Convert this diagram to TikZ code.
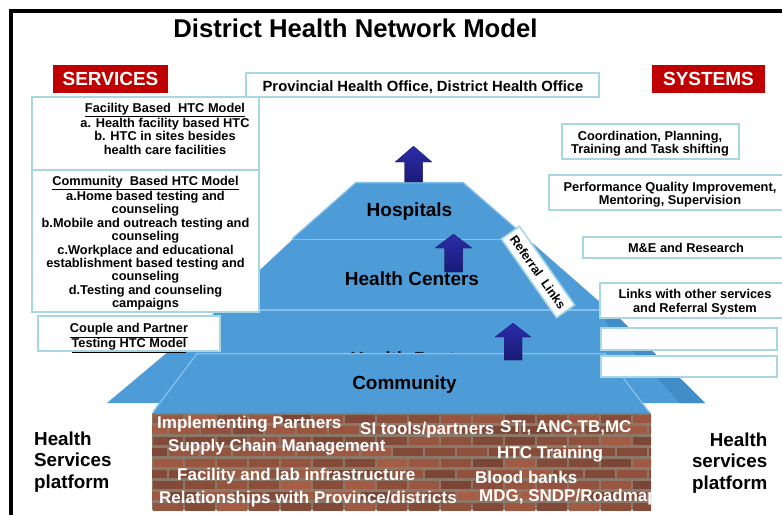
\documentclass[tikz,border=0pt]{standalone}
\usepackage{fontspec}
\setmainfont{Liberation Sans}
\newcommand{\setfs}[2]{\fontsize{#1}{#2}\selectfont\bfseries}
\definecolor{boxline}{RGB}{168,215,226}
\definecolor{tagred}{RGB}{192,0,0}
\definecolor{pyrblue}{RGB}{77,155,215}
\definecolor{pyrlight}{RGB}{132,192,236}
\definecolor{pyrside}{RGB}{66,140,200}
\definecolor{navytop}{RGB}{44,44,170}
\definecolor{navybot}{RGB}{26,26,120}
\definecolor{brickA}{RGB}{176,98,72}
\definecolor{brickB}{RGB}{112,64,50}
\definecolor{mortar}{RGB}{140,120,104}
\begin{document}
\begin{tikzpicture}[x=1pt,y=-1pt,
  every node/.style={inner sep=0pt},
  box/.style={draw=boxline, line width=1.6pt, fill=white},
  boxtext/.style={font=\setfs{12.8}{13.6}, align=center, anchor=north},
  redtag/.style={fill=tagred, text=white, font=\setfs{19}{19}, minimum height=28pt},
  layer/.style={fill=pyrblue},
  rim/.style={draw=pyrlight, line width=1.3pt},
  layerlabel/.style={font=\setfs{19}{19}, anchor=base},
  uparrow/.style={top color=navytop, bottom color=navybot},
  bricktext/.style={text=white, font=\setfs{17}{17}, anchor=base west},
  sidelabel/.style={font=\setfs{18.8}{21.5}},
]
\path[use as bounding box, fill=white] (0,0) rectangle (782,515);

% frame
\draw[line width=3.4pt] (11,515) -- (11,11) -- (782,11);

% title
\node[font=\setfs{25.7}{25.7}, anchor=base] (title) at (355.5,37) {District Health Network Model};

% red headings
\node[redtag, minimum width=115pt] (services) at (110.5,79) {SERVICES};
\node[redtag, minimum width=113pt] (systems) at (708.5,79) {SYSTEMS};

% brick platform
\begin{scope}
  \clip (152,413) rectangle (651,510);
  \fill[mortar] (152,413) rectangle (651,510);
  \pgfmathsetseed{11}
  \foreach \r in {0,...,8} {
    \foreach \c in {0,...,16} {
      \pgfmathsetmacro{\m}{int(15+75*rnd)}
      \pgfmathsetmacro{\xo}{152+\c*32-mod(\r,2)*16}
      \pgfmathsetmacro{\yo}{413+\r*11}
      \fill[brickA!\m!brickB] (\xo+1,\yo+1.5) rectangle (\xo+31,\yo+10);
    }
  }
  \node[bricktext] (ip) at (157,428) {Implementing Partners};
  \node[bricktext] (si) at (360,434) {SI tools/partners};
  \node[bricktext] (sti) at (500,432) {STI, ANC,TB,MC};
  \node[bricktext] (scm) at (168,451) {Supply Chain Management};
  \node[bricktext] (htct) at (497,458) {HTC Training};
  \node[bricktext] (fli) at (177,480) {Facility and lab infrastructure};
  \node[bricktext] (bb) at (475,483) {Blood banks};
  \node[bricktext] (rel) at (159,503) {Relationships with Province/districts};
  \node[bricktext] (mdg) at (479,501) {MDG, SNDP/Roadmap};
\end{scope}

% pyramid layers, back to front
\fill[layer] (218,310) -- (611,310) -- (705,403) -- (107,403) -- cycle;
\fill[pyrside] (611,310) -- (705,403) -- (680,403) -- (606,322) -- cycle;
\node[layerlabel] (posts) at (408,365) {Health Posts};
\fill[layer] (292,240) -- (529,240) -- (609,310) -- (217,310) -- cycle;
\draw[rim] (217,310) -- (611,310);
\fill[layer] (356,182) -- (463,182) -- (528,239) -- (292,239) -- cycle;
\draw[rim] (292,239.5) -- (529,239.5);
\draw[rim] (293,238) -- (356,182.6) -- (463,182.6) -- (527,238);
\fill[layer] (197,353) -- (605,353) -- (650,413) -- (153,413) -- cycle;
\draw[rim] (153,412) -- (197,353.6) -- (605,353.6) -- (649,412);

\node[layerlabel] (hosp) at (409.5,216) {Hospitals};
\node[layerlabel] (hc) at (412,285) {Health Centers};
\node[layerlabel] (comm) at (404.5,389) {Community};

% upward arrows
\fill[uparrow] (404.5,182) -- (404.5,162) -- (395,162) -- (413.5,146) -- (432,162) -- (422.5,162) -- (422.5,182) -- cycle;
\fill[uparrow] (444.5,272) -- (444.5,248) -- (435,248) -- (453.5,234) -- (472,248) -- (462.5,248) -- (462.5,272) -- cycle;
\fill[uparrow] (504,360) -- (504,337) -- (495,337) -- (513,323) -- (531,337) -- (522,337) -- (522,360) -- cycle;

% referral strip along the right slope
\node[box, rotate=-55, minimum width=96pt, minimum height=22pt, font=\setfs{12.5}{12.5}] (referral) at (538,272) {Referral~ Links};

% top office box
\node[box, minimum width=353pt, minimum height=24pt] (office) at (422.5,85) {};
\node[font=\setfs{14.8}{14.8}, anchor=base] (officetext) at (423,91.5) {Provincial Health Office, District Health Office};

% service models (left)
\node[box, minimum width=227pt, minimum height=73pt] (facility) at (145.5,133.5) {};
\node[box, minimum width=227pt, minimum height=142pt] (community) at (145.5,241) {};
\node[box, minimum width=182pt, minimum height=35pt] (couple) at (129,333.5) {};
\node[boxtext] (facilitytext) at (165,102.7) {\underline{Facility Based~ HTC Model}\\a. Health facility based HTC\\b. HTC in sites besides\\health care facilities};
\node[boxtext, font=\setfs{12.8}{13.4}] (communitytext) at (145.5,176) {\underline{Community~ Based HTC Model}\\a.Home based testing and\\counseling\\b.Mobile and outreach testing and\\counseling\\c.Workplace and educational\\establishment based testing and\\counseling\\d.Testing and counseling\\campaigns};
\node[boxtext] (coupletext) at (129,323.3) {\underline{Couple and Partner}\\\underline{Testing HTC Model}};

% system functions (right)
\node[box, minimum width=177pt, minimum height=35pt] (coord) at (650.5,141.5) {};
\node[box, minimum width=251pt, minimum height=35pt] (perf) at (674.5,192.5) {};
\node[box, minimum width=217pt, minimum height=21pt] (me) at (691.5,247.5) {};
\node[box, minimum width=200pt, minimum height=35pt] (links) at (700,300.5) {};
\node[box, minimum width=176pt, minimum height=22pt] (blank1) at (689,339) {};
\node[box, minimum width=176pt, minimum height=21pt] (blank2) at (689,366.5) {};
\node[boxtext, font=\setfs{12.8}{13}] (coordtext) at (650,130.7) {Coordination, Planning,\\Training and Task shifting};
\node[boxtext, font=\setfs{12.8}{13.3}] (perftext) at (670,181.7) {Performance Quality Improvement,\\Mentoring, Supervision};
\node[boxtext] (metext) at (686,243.3) {M\&E and Research};
\node[boxtext, font=\setfs{12.8}{13.3}] (linkstext) at (695,289.3) {Links with other services\\and Referral System};

% platform captions
\node[sidelabel, align=left, anchor=north west] (leftplat) at (34,431.5) {Health\\Services\\platform};
\node[sidelabel, align=right, anchor=north east] (rightplat) at (767.5,432.5) {Health\\services\\platform};
\end{tikzpicture}
\end{document}
